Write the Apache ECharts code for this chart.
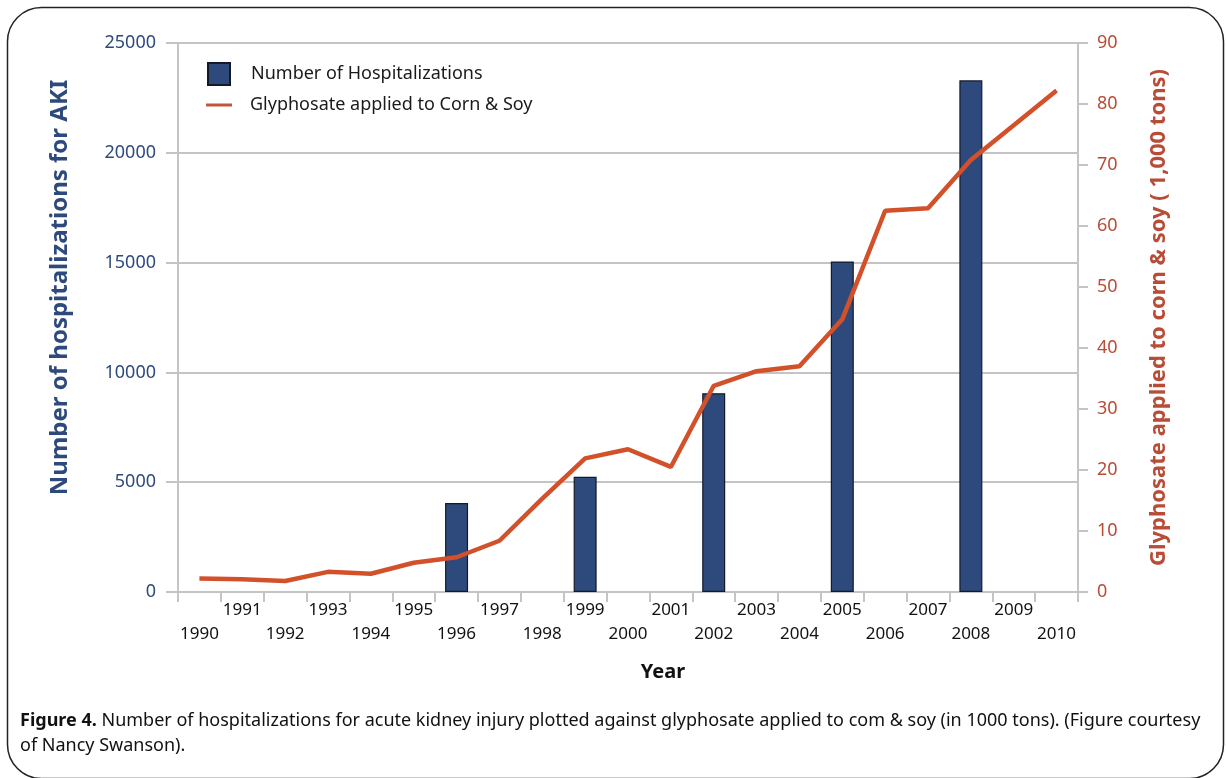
<!DOCTYPE html>
<html>
<head>
<meta charset="utf-8">
<script src="https://cdn.jsdelivr.net/npm/echarts@6/dist/echarts.min.js"></script>
<style>
html,body{margin:0;padding:0;background:#fff;}
#chart{width:1226px;height:778px;}
</style>
</head>
<body>
<div id="chart"></div>
<script>
var years = ['1990','1991','1992','1993','1994','1995','1996','1997','1998','1999','2000','2001','2002','2003','2004','2005','2006','2007','2008','2009','2010'];
var hospitalizations = [null,null,null,null,null,null,4050,null,null,5250,null,null,9050,null,null,15050,null,null,23300,null,null];
var glyphosate = [2.2,2.1,1.8,3.3,3.0,4.8,5.7,8.4,15.3,21.9,23.4,20.5,33.8,36.2,37.0,44.7,62.5,62.9,70.8,76.5,82.2];
var leftTicks = {min:0, max:25000, interval:5000};
var rightTicks = {min:0, max:90, interval:10};

var FONT = '"Noto Sans", "Open Sans", sans-serif';
var BLUE = '#2e4a7d';
var RED = '#b84c37';
var LINE = '#d2502a';
var GRAY = '#c4c4c4';

var chart = echarts.init(document.getElementById('chart'), null, {renderer:'canvas'});
chart.setOption({
  animation:false,
  backgroundColor:'#ffffff',
  textStyle:{fontFamily:FONT},
  grid:{left:178, right:148, top:43, bottom:186, containLabel:false},
  legend:[{
    data:[{name:'Number of Hospitalizations', icon:'rect'}],
    orient:'vertical', left:202, top:57,
    itemWidth:22, itemHeight:22, itemGap:8,
    textStyle:{fontFamily:FONT, fontSize:18, color:'#1a1a1a', padding:[0,0,0,16]},
    selectedMode:false
  },{
    data:[{name:'Glyphosate applied to Corn & Soy', icon:'rect', itemStyle:{color:'#c0573f'}}],
    orient:'vertical', left:201, top:91,
    itemWidth:26, itemHeight:3,
    textStyle:{fontFamily:FONT, fontSize:18, color:'#1a1a1a', padding:[0,0,0,13]},
    selectedMode:false
  }],
  xAxis:{
    type:'category', data:years, boundaryGap:true,
    name:'Year', nameLocation:'middle', nameGap:70,
    nameTextStyle:{fontFamily:FONT, fontSize:20, fontWeight:'bold', color:'#111', padding:[0,0,0,70]},
    axisLine:{lineStyle:{color:GRAY, width:2}},
    axisTick:{show:true, interval:0, length:10, lineStyle:{color:GRAY, width:2}},
    axisLabel:{interval:0, margin:6, fontSize:17, color:'#111', lineHeight:24,
      formatter:function(v, i){ return i % 2 === 0 ? '\n' + v : v; }}
  },
  yAxis:[{
    type:'value', position:'left', min:leftTicks.min, max:leftTicks.max, interval:leftTicks.interval,
    name:'Number of hospitalizations for AKI', nameLocation:'middle', nameRotate:90, nameGap:106,
    nameTextStyle:{fontFamily:FONT, fontSize:24, fontWeight:'bold', color:BLUE, padding:[0,0,0,60]},
    axisLine:{show:true, lineStyle:{color:GRAY, width:2}},
    axisTick:{show:true, length:12, lineStyle:{color:GRAY, width:2}},
    axisLabel:{fontSize:18, color:BLUE, margin:22, formatter:function(v){ return String(v); }},
    splitLine:{show:true, lineStyle:{color:GRAY, width:2}}
  },{
    type:'value', position:'right', min:rightTicks.min, max:rightTicks.max, interval:rightTicks.interval,
    name:'Glyphosate applied to corn & soy ( 1,000 tons)', nameLocation:'middle', nameRotate:90, nameGap:70,
    nameTextStyle:{fontFamily:FONT, fontSize:22, fontWeight:'bold', color:RED},
    axisLine:{show:true, lineStyle:{color:GRAY, width:2}},
    axisTick:{show:true, length:10, lineStyle:{color:GRAY, width:2}},
    axisLabel:{fontSize:18, color:RED, margin:19},
    splitLine:{show:false}
  }],
  series:[{
    name:'Number of Hospitalizations', type:'bar', yAxisIndex:0, data:hospitalizations,
    barWidth:23,
    itemStyle:{color:BLUE, borderColor:'#141a2a', borderWidth:1.2},
    z:2
  },{
    name:'Glyphosate applied to Corn & Soy', type:'line', yAxisIndex:1, data:glyphosate,
    symbol:'none', lineStyle:{color:LINE, width:4.5}, itemStyle:{color:LINE},
    z:3
  }],
  graphic:[{
    type:'rect', left:5, top:5, silent:true,
    shape:{width:1216, height:771, r:34},
    style:{fill:'none', stroke:'#222', lineWidth:1.5}
  },{
    type:'text', left:20, top:708, silent:true,
    style:{
      text:'{b|Figure 4.} Number of hospitalizations for acute kidney injury plotted against glyphosate applied to com & soy (in 1000 tons). (Figure courtesy\nof Nancy Swanson).',
      font:'18px ' + FONT, fill:'#111', lineHeight:25,
      rich:{b:{fontWeight:'bold', fontSize:18, fontFamily:FONT, fill:'#111'}}
    }
  }]
});
</script>
</body>
</html>
